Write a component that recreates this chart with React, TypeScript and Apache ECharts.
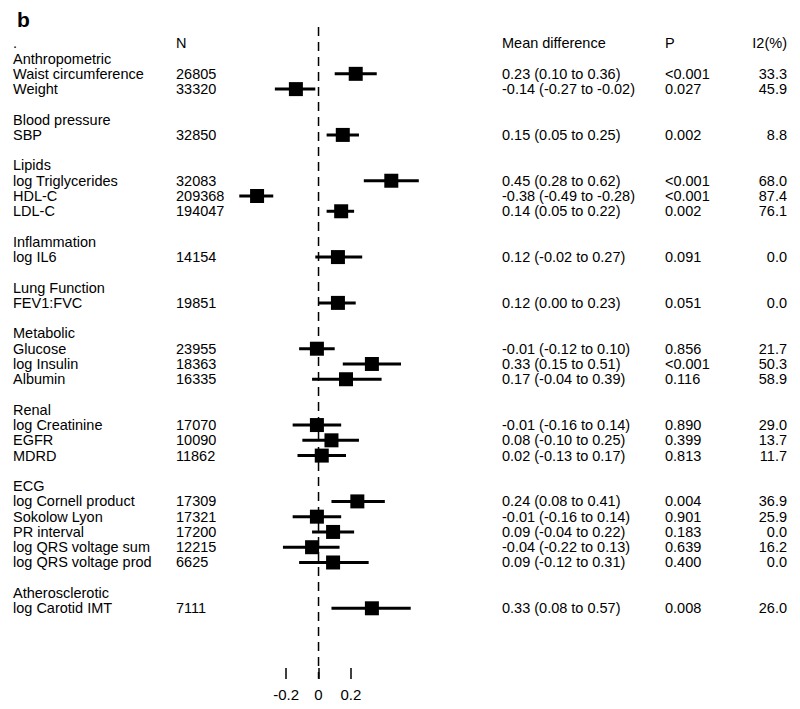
import React, { useEffect, useRef } from "react";
import * as echarts from "echarts";

// ---- data ----
const groups = ["Anthropometric", "Blood pressure", "Lipids", "Inflammation", "Lung Function", "Metabolic", "Renal", "ECG", "Atherosclerotic"];
const groupRows = [1, 5, 8, 13, 16, 19, 24, 29, 36];

const outcomes = [
  "Waist circumference", "Weight", "SBP", "log Triglycerides", "HDL-C", "LDL-C", "log IL6", "FEV1:FVC",
  "Glucose", "log Insulin", "Albumin", "log Creatinine", "EGFR", "MDRD", "log Cornell product",
  "Sokolow Lyon", "PR interval", "log QRS voltage sum", "log QRS voltage prod", "log Carotid IMT",
];
const outcomeRows = [2, 3, 6, 9, 10, 11, 14, 17, 20, 21, 22, 25, 26, 27, 30, 31, 32, 33, 34, 37];
const nValues = [26805, 33320, 32850, 32083, 209368, 194047, 14154, 19851, 23955, 18363, 16335, 17070, 10090, 11862, 17309, 17321, 17200, 12215, 6625, 7111];
const estimates = [0.23, -0.14, 0.15, 0.45, -0.38, 0.14, 0.12, 0.12, -0.01, 0.33, 0.17, -0.01, 0.08, 0.02, 0.24, -0.01, 0.09, -0.04, 0.09, 0.33];
const lower = [0.10, -0.27, 0.05, 0.28, -0.49, 0.05, -0.02, 0.00, -0.12, 0.15, -0.04, -0.16, -0.10, -0.13, 0.08, -0.16, -0.04, -0.22, -0.12, 0.08];
const upper = [0.36, -0.02, 0.25, 0.62, -0.28, 0.22, 0.27, 0.23, 0.10, 0.51, 0.39, 0.14, 0.25, 0.17, 0.41, 0.14, 0.22, 0.13, 0.31, 0.57];
const pValues = ["<0.001", "0.027", "0.002", "<0.001", "<0.001", "0.002", "0.091", "0.051", "0.856", "<0.001", "0.116", "0.890", "0.399", "0.813", "0.004", "0.901", "0.183", "0.639", "0.400", "0.008"];
const i2Values = ["33.3", "45.9", "8.8", "68.0", "87.4", "76.1", "0.0", "0.0", "21.7", "50.3", "58.9", "29.0", "13.7", "11.7", "36.9", "25.9", "0.0", "16.2", "0.0", "26.0"];

const headers = [".", "N", "Mean difference", "P", "I2(%)"];
const headerRow = 0;
const tickValues = [-0.2, 0, 0.2];
const panelLabel = "b";

// ---- layout ----
const FONT = "'Liberation Sans', Arial, sans-serif";
const FS = 14.5;
const COL_X = [13, 176, 502, 665, 787];
const COL_ALIGN = ["left", "left", "left", "left", "right"];
const ZERO_TOP = -1.07;
const ZERO_BOTTOM = 41.62;
const SQ = 14;

type TextRow = { row: number; cells: string[] };
const textRows: TextRow[] = [];
textRows.push({ row: headerRow, cells: headers });
groups.forEach((g, i) => textRows.push({ row: groupRows[i], cells: [g, "", "", "", ""] }));
outcomes.forEach((o, i) =>
  textRows.push({
    row: outcomeRows[i],
    cells: [
      o,
      String(nValues[i]),
      `${estimates[i].toFixed(2)} (${lower[i].toFixed(2)} to ${upper[i].toFixed(2)})`,
      pValues[i],
      i2Values[i],
    ],
  })
);

export default function App() {
  const ref = useRef<HTMLDivElement>(null);
  useEffect(() => {
    document.body.style.margin = "0";
    if (!ref.current) return;
    const chart = echarts.init(ref.current, null, { renderer: "svg" });
    chart.setOption({
      animation: false,
      title: {
        text: panelLabel,
        left: 12,
        top: 4,
        textStyle: { fontSize: 21, fontWeight: "bold", color: "#000", fontFamily: FONT },
      },
      grid: { left: 221.5, right: 352.1, top: 12.76, bottom: 41 },
      xAxis: {
        type: "value",
        position: "bottom",
        min: -0.6,
        max: 0.8,
        interval: 0.2,
        splitLine: { show: false },
        axisLine: { show: false, onZero: false },
        axisTick: { show: true, length: 11, lineStyle: { color: "#000", width: 1.5 }, customValues: tickValues },
        axisLabel: { customValues: tickValues, margin: 19, fontSize: 15, color: "#000", fontFamily: FONT },
      },
      yAxis: { type: "value", inverse: true, min: -2, max: 40.91, show: false },
      series: [
        {
          type: "custom",
          name: "zero",
          data: [[0]],
          encode: { x: 0 },
          renderItem: (params: any, api: any) => {
            const p1 = api.coord([api.value(0), ZERO_TOP]);
            const p2 = api.coord([api.value(0), ZERO_BOTTOM]);
            return {
              type: "line",
              shape: { x1: p1[0], y1: p1[1], x2: p2[0], y2: p2[1] },
              style: { stroke: "#000", lineWidth: 1.5, lineDash: [9, 6] },
            };
          },
        },
        {
          type: "custom",
          name: "ci",
          data: outcomes.map((_, i) => [estimates[i], outcomeRows[i], lower[i], upper[i]]),
          encode: { x: [0, 2, 3], y: 1 },
          renderItem: (params: any, api: any) => {
            const c = api.coord([api.value(0), api.value(1)]);
            const l = api.coord([api.value(2), api.value(1)]);
            const h = api.coord([api.value(3), api.value(1)]);
            return {
              type: "group",
              children: [
                { type: "line", shape: { x1: l[0], y1: l[1], x2: h[0], y2: h[1] }, style: { stroke: "#000", lineWidth: 3 } },
                { type: "rect", shape: { x: c[0] - SQ / 2, y: c[1] - SQ / 2, width: SQ, height: SQ }, style: { fill: "#000" } },
              ],
            };
          },
        },
        {
          type: "custom",
          name: "table",
          data: textRows.map((r) => [0, r.row]),
          encode: { x: 0, y: 1 },
          renderItem: (params: any, api: any) => {
            const r = textRows[params.dataIndex];
            const y = api.coord([0, api.value(1)])[1];
            const children: any[] = [];
            r.cells.forEach((s, col) => {
              if (s === "") return;
              children.push({
                type: "text",
                x: COL_X[col],
                y,
                style: {
                  text: s,
                  fill: "#000",
                  fontSize: FS,
                  fontFamily: FONT,
                  align: COL_ALIGN[col],
                  verticalAlign: "middle",
                },
              });
            });
            return { type: "group", children };
          },
        },
      ],
    });
    return () => chart.dispose();
  }, []);
  return <div ref={ref} style={{ width: 800, height: 709 }} />;
}
